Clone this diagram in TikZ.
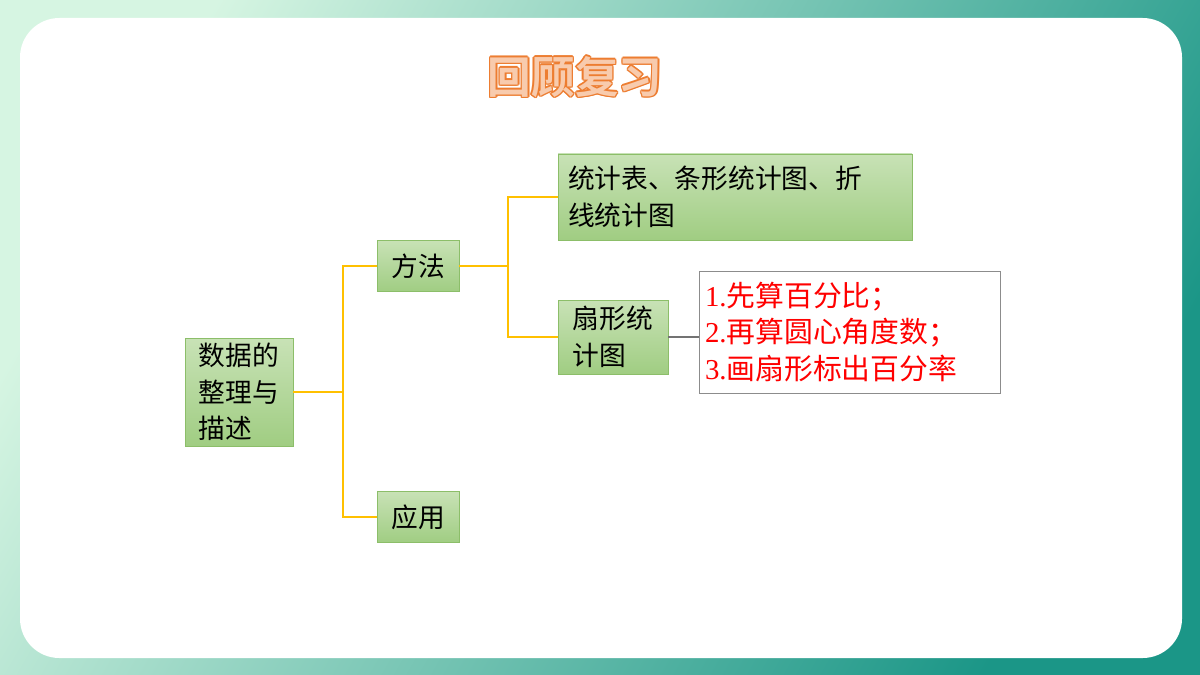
\documentclass[tikz,border=0pt]{standalone}
\usepackage{fontspec}
\newfontfamily\cjk{Noto Sans CJK SC}
\newfontfamily\cjkb{Noto Sans CJK SC Bold}
\newfontfamily\numf{Liberation Serif}
\definecolor{frameL}{RGB}{214,245,226}
\definecolor{frameR}{RGB}{27,150,135}
\definecolor{boxT}{RGB}{200,226,182}
\definecolor{boxB}{RGB}{160,205,130}
\definecolor{boxE}{RGB}{140,190,105}
\definecolor{linkO}{RGB}{255,192,0}
\definecolor{titleO}{RGB}{237,125,49}
\tikzset{
  greenbox/.style={draw=boxE, top color=boxT, bottom color=boxB, inner sep=0pt,
    font=\cjk\fontsize{19}{26}\selectfont, align=left, anchor=center},
  link/.style={linkO, line width=0.9pt},
  titletext/.style={font=\cjkb\fontsize{31}{36}\selectfont},
}
\begin{document}
\begin{tikzpicture}[x=0.025cm, y=-0.025cm]
  \useasboundingbox (0,0) rectangle (1200,675);
  % frame
  \shade[left color=frameL, right color=frameR, shading angle=60] (0,0) rectangle (1200,675);
  \fill[white, rounded corners=28] (20,18) rectangle (1182,658);
  % title
  \foreach \dx/\dy in {-1.5/0,1.5/0,0/-1.5,0/1.5,-1/-1,1/1,-1/1,1/-1}
    \node[titletext, titleO] at ([shift={(\dx,\dy)}]575,77) {回顾复习};
  \node[titletext, titleO!40] (title) at (575,77) {回顾复习};
  % boxes
  \node[greenbox, minimum width=108*0.025cm, minimum height=108*0.025cm] (root) at (239,392) {数据的\\整理与\\描述};
  \node[greenbox, minimum width=82*0.025cm, minimum height=51*0.025cm] (way) at (418,266) {方法};
  \node[greenbox, minimum width=354*0.025cm, minimum height=86*0.025cm, text width=334*0.025cm] (tab) at (735,197) {统计表、条形统计图、折\\线统计图};
  \node[greenbox, minimum width=82*0.025cm, minimum height=51*0.025cm] (use) at (418,517) {应用};
  \node[greenbox, minimum width=110*0.025cm, minimum height=74*0.025cm] (fan) at (613,337) {扇形统\\计图};
  \node[draw=black!45, fill=white, minimum width=301*0.025cm, minimum height=122*0.025cm,
    text width=290*0.025cm, align=left, text=red, font=\cjk\fontsize{20.5}{26}\selectfont] (step) at (850,332)
    {{\numf 1.}先算百分比；\\{\numf 2.}再算圆心角度数；\\{\numf 3.}画扇形标出百分率};
  % links
  \coordinate (j1) at (343,392);
  \coordinate (j2) at (508,266);
  \draw[link] (root.east) -- (j1);
  \draw[link] (way.west) -| (j1) |- (use.west);
  \draw[link] (way.east) -- (j2);
  \draw[link] (tab.west) -| (j2) |- (fan.west);
  \draw[black!55, line width=0.9pt] (fan.east) -- (fan.east -| step.west);
\end{tikzpicture}
\end{document}
